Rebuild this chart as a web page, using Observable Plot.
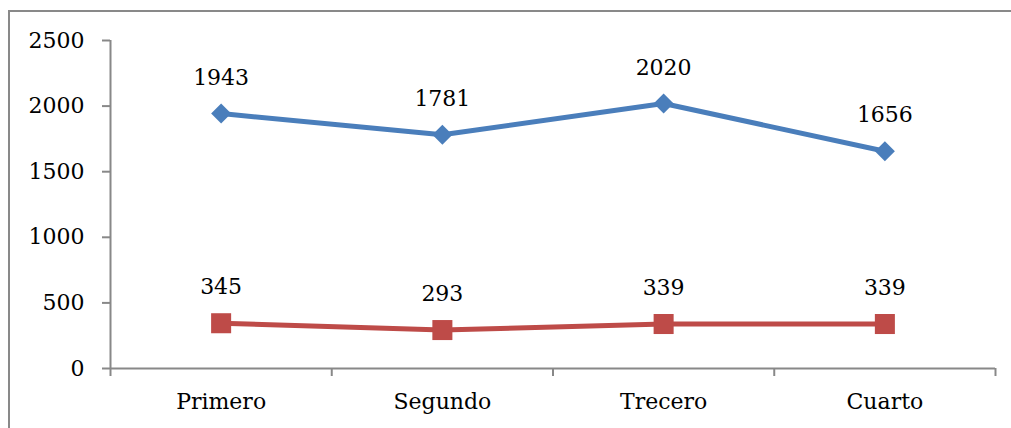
<!DOCTYPE html>
<html>
<head>
<meta charset="utf-8">
<script src="https://cdn.jsdelivr.net/npm/d3@7"></script>
<script src="https://cdn.jsdelivr.net/npm/@observablehq/plot@0.6"></script>
<style>
  html, body { margin: 0; padding: 0; background: #fff; overflow: hidden; }
  #wrap { position: relative; width: 1011px; height: 428px; }
  #frame { position: absolute; left: 8px; top: 10px; width: 1100px; height: 600px; border: 2px solid #898989; box-sizing: border-box; }
  #chart { position: absolute; left: 0; top: 0; }
</style>
</head>
<body>
<div id="wrap"><div id="frame"></div><div id="chart"></div></div>
<script>
const categories = ["Primero", "Segundo", "Trecero", "Cuarto"];
const serieAzul = [1943, 1781, 2020, 1656];
const serieRoja = [345, 293, 339, 339];
const yTicks = [0, 500, 1000, 1500, 2000, 2500];

const blue = "#4a7ebb";
const red = "#be4b48";
const axisColor = "#888888";

const azul = categories.map((c, i) => ({ x: i + 0.5, y: serieAzul[i] }));
const roja = categories.map((c, i) => ({ x: i + 0.5, y: serieRoja[i] }));
const boundaries = d3.range(categories.length + 1);

const chart = Plot.plot({
  width: 1011,
  height: 428,
  marginLeft: 110,
  marginRight: 16,
  marginTop: 40,
  marginBottom: 60,
  style: { fontFamily: "'DejaVu Serif', serif", fontSize: "22px", background: "transparent", color: "#000" },
  x: { domain: [0, categories.length], axis: null },
  y: { domain: [0, 2500], axis: null },
  marks: [
    Plot.axisY({ ticks: yTicks, tickSize: 8, tickPadding: 18, stroke: axisColor, strokeWidth: 2, fill: "#000", fontSize: 22, tickFormat: d => String(d), label: null }),
    Plot.axisX({ ticks: boundaries, tickSize: 8, tickFormat: () => "", stroke: axisColor, strokeWidth: 2, label: null }),
    Plot.axisX({ ticks: categories.map((c, i) => i + 0.5), tickSize: 0, tickPadding: 25, tickFormat: d => categories[Math.floor(d)], fill: "#000", fontSize: 22, label: null }),
    Plot.ruleX([0], { y1: 0, y2: 2500, stroke: axisColor, strokeWidth: 2 }),
    Plot.ruleY([0], { x1: 0, x2: categories.length, stroke: axisColor, strokeWidth: 2 }),
    Plot.line(azul, { x: "x", y: "y", stroke: blue, strokeWidth: 5 }),
    Plot.dot(azul, { x: "x", y: "y", symbol: "diamond2", r: 9, fill: blue, stroke: "none" }),
    Plot.line(roja, { x: "x", y: "y", stroke: red, strokeWidth: 5 }),
    Plot.dot(roja, { x: "x", y: "y", symbol: "square", r: 11.3, fill: red, stroke: "none" }),
    Plot.text(azul, { x: "x", y: "y", text: d => String(d.y), dy: -36, fill: "#000", fontSize: 22 }),
    Plot.text(roja, { x: "x", y: "y", text: d => String(d.y), dy: -36, fill: "#000", fontSize: 22 })
  ]
});
document.getElementById("chart").appendChild(chart);
</script>
</body>
</html>
